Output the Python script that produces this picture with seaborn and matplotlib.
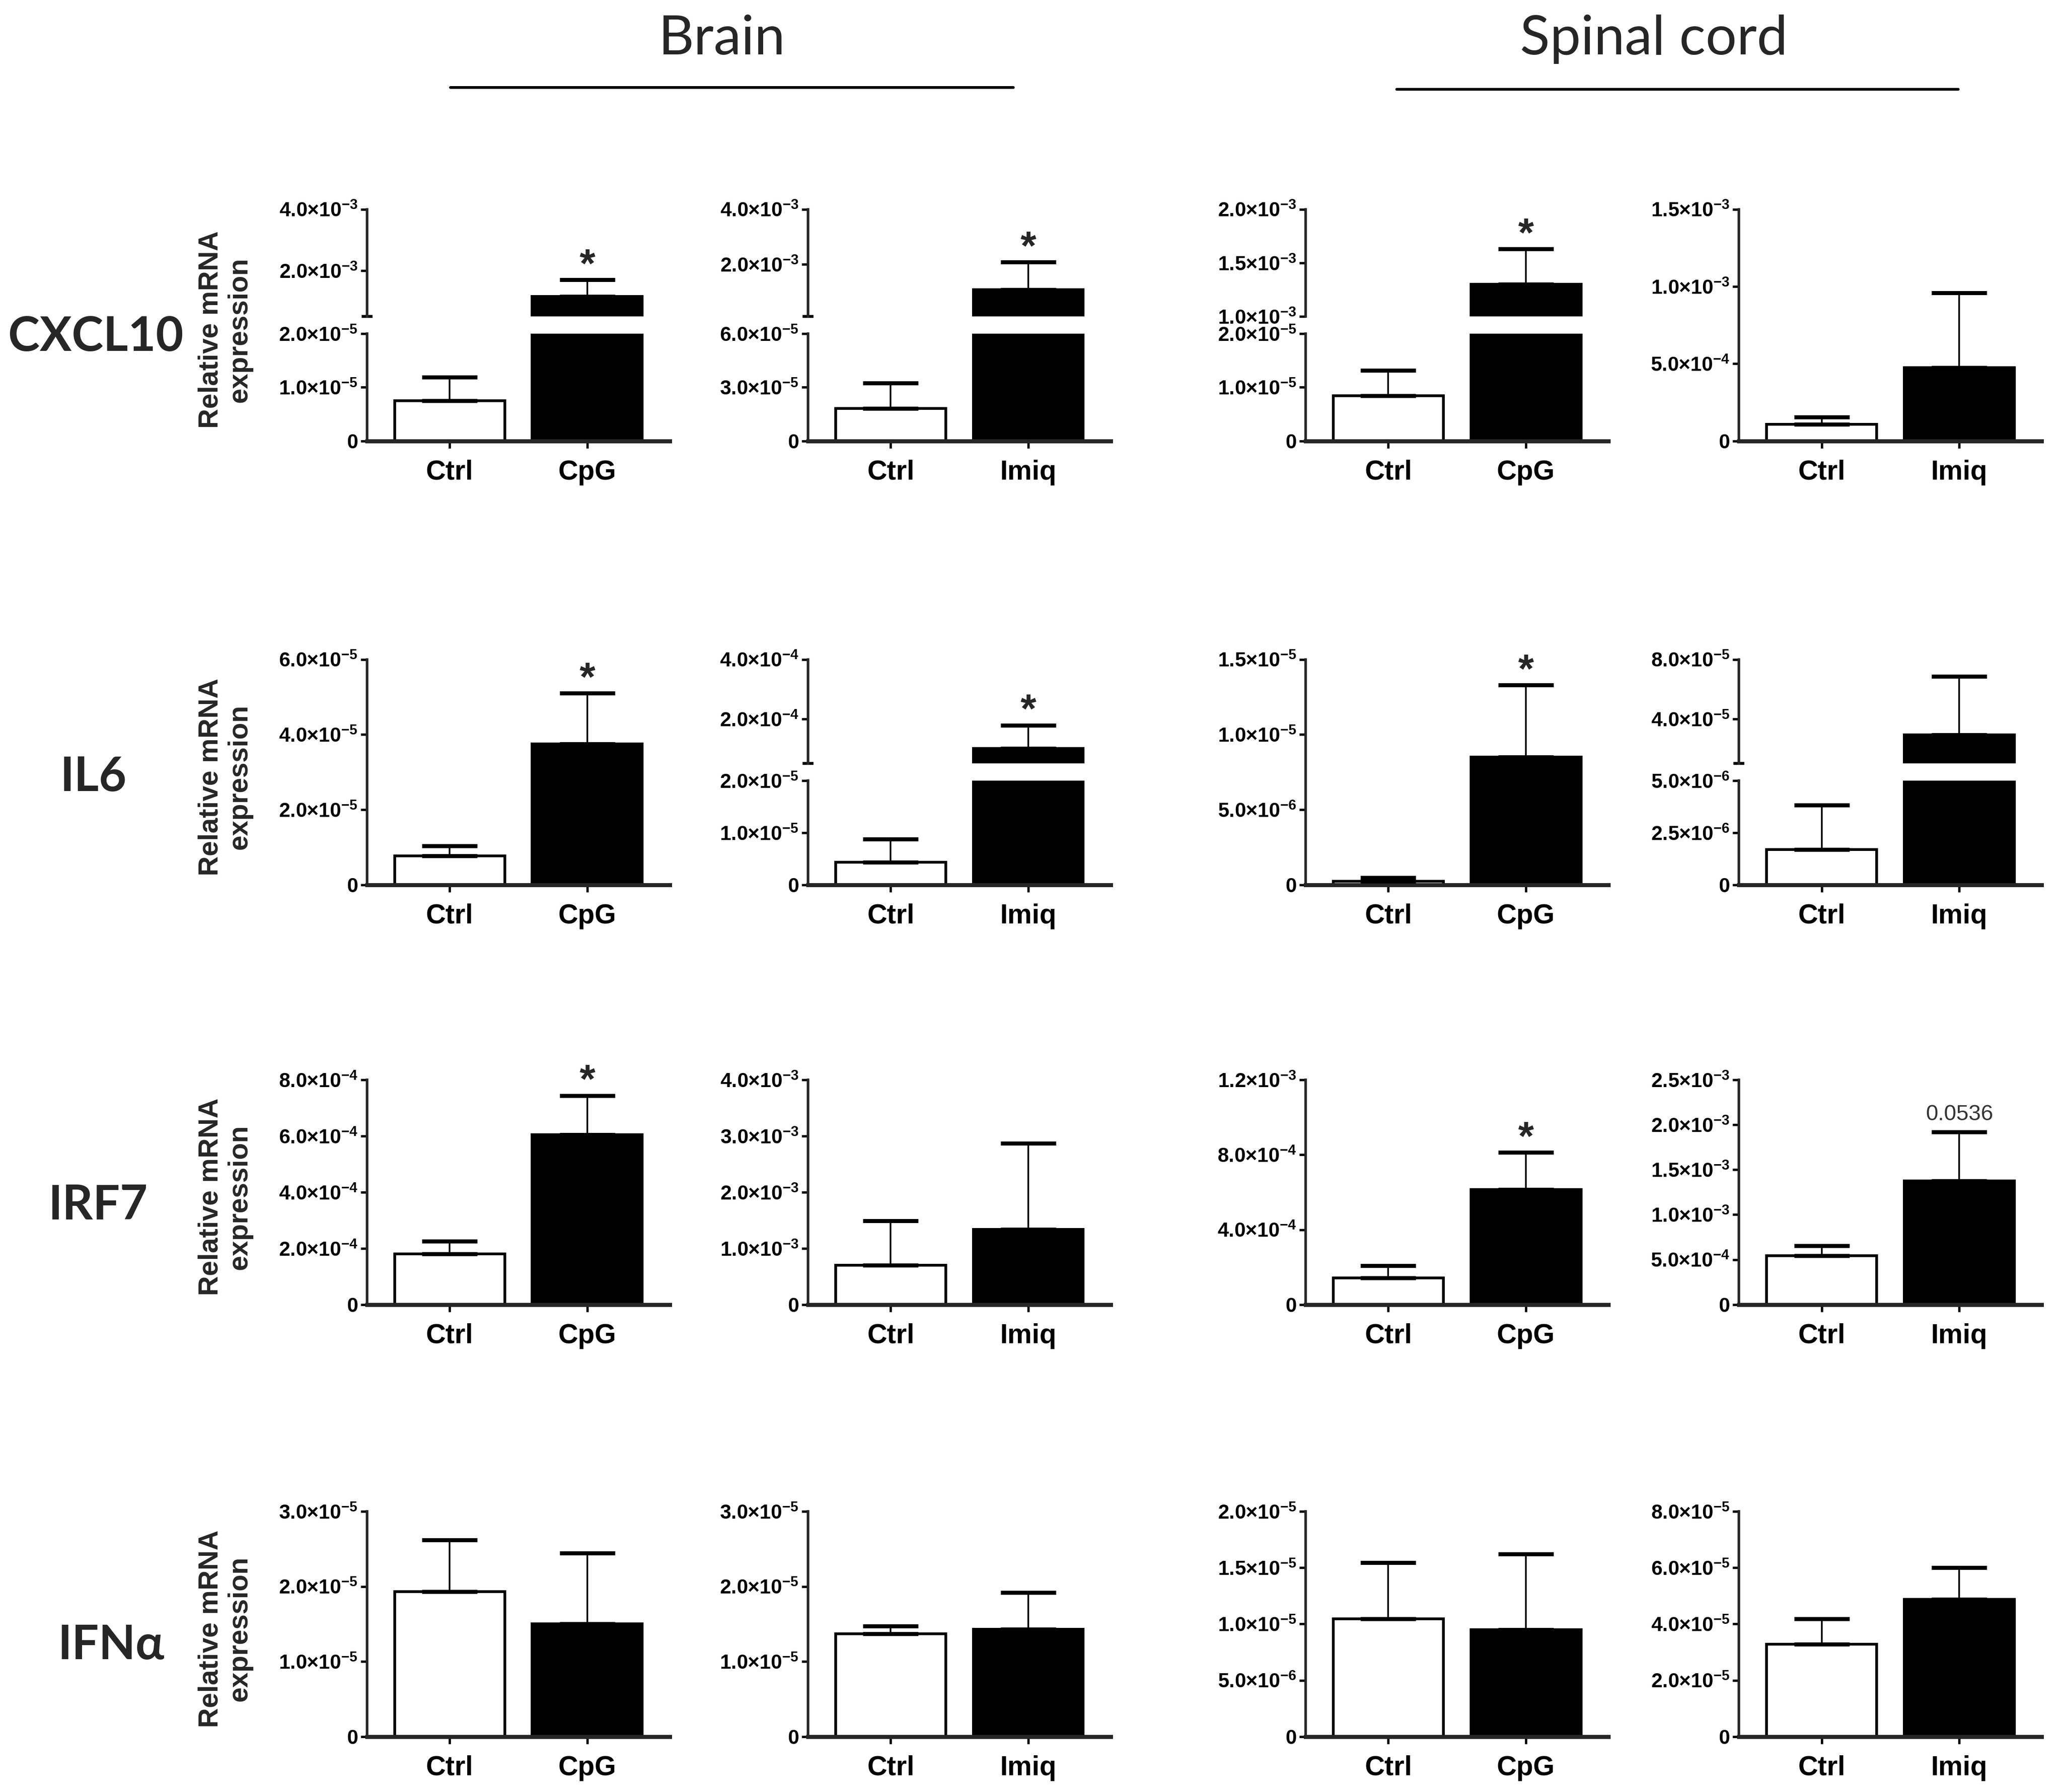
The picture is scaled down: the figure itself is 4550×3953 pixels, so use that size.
import numpy as np
import pandas as pd
import matplotlib
matplotlib.use('Agg')
import matplotlib.pyplot as plt
from matplotlib.lines import Line2D
import seaborn as sns

# panels per row: brain CpG, brain Imiq, spinal cord CpG, spinal cord Imiq
GENES = ['CXCL10', 'IL6', 'IRF7', 'IFNα']
TISSUES = ['Brain', 'Spinal cord']
TREATMENTS = ['CpG', 'Imiq', 'CpG', 'Imiq']

CTRL_MEAN = [
    [0.75e-5, 1.81e-5, 0.84e-5, 1.09e-4],
    [0.77e-5, 0.43e-5, 0.24e-6, 1.69e-6],
    [1.81e-4, 0.70e-3, 1.42e-4, 5.45e-4],
    [1.93e-5, 1.37e-5, 1.047e-5, 3.29e-5],
]
CTRL_SEM = [
    [0.44e-5, 1.44e-5, 0.48e-5, 0.46e-4],
    [0.27e-5, 0.45e-5, 0.25e-6, 2.14e-6],
    [0.44e-4, 0.79e-3, 0.65e-4, 1.10e-4],
    [0.69e-5, 0.10e-5, 0.50e-5, 0.90e-5],
]
TREAT_MEAN = [
    [1.15e-3, 1.07e-3, 1.30e-3, 4.76e-4],
    [3.75e-5, 1.00e-4, 8.49e-6, 2.92e-5],
    [6.04e-4, 1.34e-3, 6.13e-4, 1.375e-3],
    [1.505e-5, 1.43e-5, 0.95e-5, 4.88e-5],
]
TREAT_SEM = [
    [0.55e-3, 1.01e-3, 0.33e-3, 4.82e-4],
    [1.35e-5, 0.79e-4, 4.8e-6, 3.93e-5],
    [1.40e-4, 1.53e-3, 1.99e-4, 5.45e-4],
    [0.94e-5, 0.49e-5, 0.67e-5, 1.13e-5],
]

# y ticks of the (lower) axis
Y_TICKS = [
    [[0, 1e-5, 2e-5], [0, 3e-5, 6e-5], [0, 1e-5, 2e-5], [0, 5e-4, 1e-3, 1.5e-3]],
    [[0, 2e-5, 4e-5, 6e-5], [0, 1e-5, 2e-5], [0, 5e-6, 1e-5, 1.5e-5], [0, 2.5e-6, 5e-6]],
    [[0, 2e-4, 4e-4, 6e-4, 8e-4], [0, 1e-3, 2e-3, 3e-3, 4e-3],
     [0, 4e-4, 8e-4, 1.2e-3], [0, 5e-4, 1e-3, 1.5e-3, 2e-3, 2.5e-3]],
    [[0, 1e-5, 2e-5, 3e-5], [0, 1e-5, 2e-5, 3e-5],
     [0, 5e-6, 1e-5, 1.5e-5, 2e-5], [0, 2e-5, 4e-5, 6e-5, 8e-5]],
]
# upper segment of broken axes: (start, ticks), None = no break
UPPER = [
    [(0.5e-3, [2e-3, 4e-3]), (0.1e-3, [2e-3, 4e-3]), (1e-3, [1e-3, 1.5e-3, 2e-3]), None],
    [None, (0.5e-4, [2e-4, 4e-4]), None, (1e-5, [4e-5, 8e-5])],
    [None, None, None, None],
    [None, None, None, None],
]
MARKS = [
    ['*', '*', '*', ''],
    ['*', '*', '*', ''],
    ['*', '', '*', '0.0536'],
    ['', '', '', ''],
]

# layout in pixels of the 4550x3953 image
W, H = 4550, 3953
COL_LEFT = [810, 1783, 2881, 3837]
COL_W = 668
ROW_TOP = [462, 1455, 2382, 3334]
ROW_BOT = [973, 1952, 2878, 3831]
BREAK_GAP = 38
LABEL_X = [211, 206, 216, 245]
LABEL_Y = [744, 1715, 2660, 3630]

sns.set_theme(style='ticks')
plt.rcParams['font.family'] = ['Liberation Sans', 'DejaVu Sans']
plt.rcParams['mathtext.default'] = 'regular'

DPI = 291.67
fig = plt.figure(figsize=(4550.4 / DPI, 3953.4 / DPI), dpi=DPI)
fig.patch.set_facecolor('white')


def tick_label(v):
    if v == 0:
        return '0'
    e = int(np.floor(np.log10(v) + 1e-9))
    m = v / 10 ** e
    return f'{m:.1f}×10$^{{{e}}}$'


def style_axis(ax, ticks, lo, hi, bottom=True):
    ax.set_xlim(-0.6, 1.6)
    ax.set_ylim(lo, hi)
    ax.set_yticks(ticks, [tick_label(t) for t in ticks], fontsize=11, fontweight='bold')
    ax.set_xlabel('')
    ax.set_ylabel('')
    ax.set_facecolor('none')
    ax.spines[['top', 'right']].set_visible(False)
    ax.spines['left'].set_linewidth(1.4)
    ax.tick_params(axis='y', direction='out', length=3.5, width=1.3, pad=1.5, colors='black')
    if bottom:
        ax.spines['bottom'].set_linewidth(2.2)
        ax.tick_params(axis='x', direction='out', length=4, width=1.3, pad=6, colors='black')
        for lbl in ax.get_xticklabels():
            lbl.set_fontsize(15)
            lbl.set_fontweight('bold')
    else:
        ax.spines['bottom'].set_visible(False)
        ax.tick_params(axis='x', bottom=False, labelbottom=False)


def draw_bars(ax, gi, pj, lo=0):
    df = pd.DataFrame({'group': ['Ctrl', TREATMENTS[pj]],
                       'value': [CTRL_MEAN[gi][pj], TREAT_MEAN[gi][pj]],
                       'sem': [CTRL_SEM[gi][pj], TREAT_SEM[gi][pj]]})
    sns.barplot(data=df, x='group', y='value', hue='group', palette=['white', 'black'],
                edgecolor='black', linewidth=1.5, width=0.8, errorbar=None,
                legend=False, ax=ax)
    # only error bars whose bar reaches into this axis segment
    shown = df[df['value'] >= lo]
    ax.errorbar(shown.index, shown['value'],
                yerr=[np.zeros(len(shown)), shown['sem']],
                fmt='none', ecolor='black', elinewidth=0.9, capsize=15,
                capthick=2.2, zorder=4)


for gi in range(len(GENES)):
    top, bot = ROW_TOP[gi], ROW_BOT[gi]
    for pj in range(4):
        left = COL_LEFT[pj]
        ticks = Y_TICKS[gi][pj]
        upper = UPPER[gi][pj]
        if upper is None:
            ax = fig.add_axes([left / W, 1 - bot / H, COL_W / W, (bot - top) / H])
            draw_bars(ax, gi, pj)
            style_axis(ax, ticks, 0, ticks[-1])
            ax_mark = ax
        else:
            seg = (bot - top - BREAK_GAP) / 2
            ax_lo = fig.add_axes([left / W, 1 - bot / H, COL_W / W, seg / H])
            ax_up = fig.add_axes([left / W, 1 - (top + seg) / H, COL_W / W, seg / H])
            draw_bars(ax_lo, gi, pj)
            draw_bars(ax_up, gi, pj, lo=upper[0])
            style_axis(ax_lo, ticks, 0, ticks[-1])
            style_axis(ax_up, upper[1], upper[0], upper[1][-1], bottom=False)
            # small end caps at the break
            ax_lo.set_yticks([ticks[-1]], minor=True)
            ax_up.set_yticks([upper[0]], minor=True)
            for a in (ax_lo, ax_up):
                a.tick_params(axis='y', which='minor', direction='inout',
                              length=6, width=1.6, colors='black')
            ax_mark = ax_up
        mark = MARKS[gi][pj]
        if mark:
            y_top = TREAT_MEAN[gi][pj] + TREAT_SEM[gi][pj]
            if mark == '*':
                ax_mark.annotate(mark, (1, y_top), xytext=(0, -3), textcoords='offset points',
                                 ha='center', va='bottom', fontsize=22, fontweight='bold',
                                 annotation_clip=False)
            else:
                ax_mark.annotate(mark, (1, y_top), xytext=(0, 4), textcoords='offset points',
                                 ha='center', va='bottom', fontsize=12, color='#333333',
                                 annotation_clip=False)

    # row label and y-axis title
    fig.text(LABEL_X[gi] / W, 1 - LABEL_Y[gi] / H, GENES[gi], ha='center', va='center',
             fontsize=26, fontweight='bold', family=['Lato', 'DejaVu Sans'])
    fig.text(497 / W, 1 - ((top + bot) / 2 + 10) / H, 'Relative mRNA\nexpression',
             rotation=90, ha='center', va='center', fontsize=15, fontweight='bold',
             linespacing=1.15)

# tissue headers with rules underneath
for name, cx, x0, x1, ly in [(TISSUES[0], 1593, 994, 2236, 193),
                             (TISSUES[1], 3649, 3082, 4321, 197)]:
    fig.text(cx / W, 1 - 86 / H, name, ha='center', va='center', fontsize=30,
             family=['Lato', 'DejaVu Sans'])
    fig.add_artist(Line2D([x0 / W, x1 / W], [1 - ly / H, 1 - ly / H],
                          transform=fig.transFigure, color='black', lw=1.5))

fig.savefig('out.png', dpi=DPI, facecolor='white')
